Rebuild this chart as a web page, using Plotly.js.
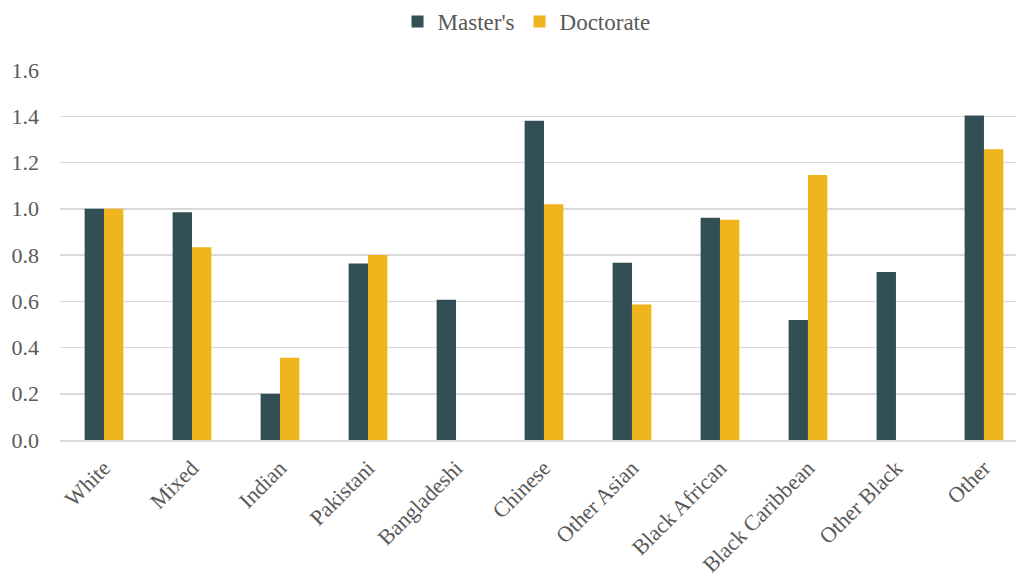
<!DOCTYPE html>
<html>
<head>
<meta charset="utf-8">
<script src="https://cdn.plot.ly/plotly-3.0.1.min.js"></script>
<style>html,body{margin:0;padding:0;background:#fff;}#chart{width:1018px;height:583px;}</style>
</head>
<body>
<div id="chart"></div>
<script>
const categories = ["White","Mixed","Indian","Pakistani","Bangladeshi","Chinese","Other Asian","Black African","Black Caribbean","Other Black","Other"];
const masters = [1.00, 0.985, 0.20, 0.763, 0.607, 1.381, 0.766, 0.961, 0.519, 0.727, 1.403];
const doctorate = [1.00, 0.833, 0.356, 0.80, null, 1.020, 0.586, 0.952, 1.146, null, 1.257];
const yTicks = [0, 0.2, 0.4, 0.6, 0.8, 1.0, 1.2, 1.4, 1.6];

const axisFont = {family: "'Liberation Serif', 'Times New Roman', serif", size: 22, color: "#595959"};
const legendFont = {family: "'Liberation Serif', 'Times New Roman', serif", size: 23, color: "#595959"};

const traces = [
  {type: "bar", name: "Master's", x: categories, y: masters, marker: {color: "#324F55"}},
  {type: "bar", name: "Doctorate", x: categories, y: doctorate, marker: {color: "#F0B41C"}}
];

const layout = {
  width: 1018, height: 583,
  margin: {l: 60, r: 2, t: 70, b: 143},
  paper_bgcolor: "#fff", plot_bgcolor: "#fff",
  font: axisFont,
  barmode: "group", bargap: 0.56, bargroupgap: 0,
  showlegend: true,
  legend: {orientation: "h", x: 0.488, xanchor: "center", y: 1.0, yref: "container", yanchor: "top",
           font: legendFont, itemwidth: 30, traceorder: "normal"},
  xaxis: {range: [-0.5, 10.364], tickangle: -45, tickfont: axisFont, showgrid: false,
          showline: true, linecolor: "#D9D9D9", linewidth: 1.5, ticks: "", automargin: false,
          ticklabelstandoff: 5},
  yaxis: {range: [0, 1.6], tickvals: yTicks, ticktext: yTicks.map(v => v.toFixed(1)),
          tickfont: axisFont, showgrid: true, gridcolor: "#D9D9D9", gridwidth: 1.5,
          zeroline: false, showline: false, ticks: "", ticklen: 0, automargin: false,
          ticklabelstandoff: 20}
};

Plotly.newPlot("chart", traces, layout, {displayModeBar: false, staticPlot: true});
</script>
</body>
</html>
